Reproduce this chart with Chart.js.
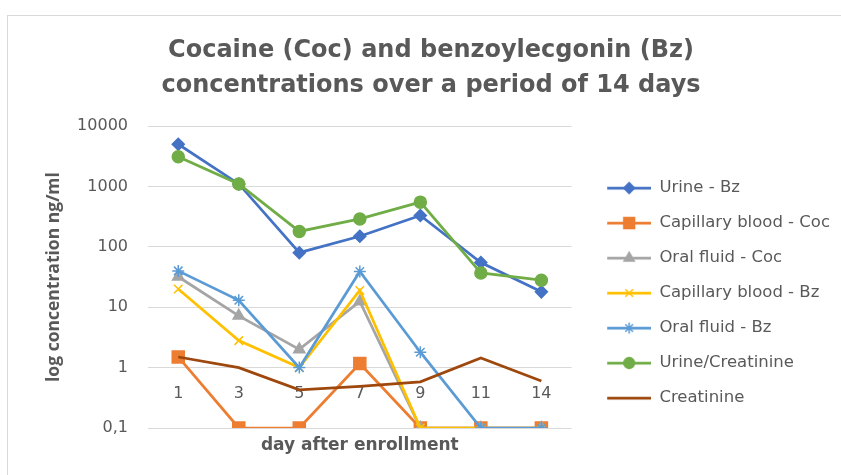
<!DOCTYPE html>
<html>
<head>
<meta charset="utf-8">
<script src="https://cdn.jsdelivr.net/npm/chart.js@4.4.0/dist/chart.umd.min.js"></script>
<style>
  body { margin: 0; background: #ffffff; }
  #chart_box { position: relative; width: 841px; height: 475px; overflow: hidden; }
  #frame { position: absolute; left: 7px; top: 15px; width: 900px; height: 500px; border: 1px solid #d9d9d9; }
  #chart { position: absolute; left: 0; top: 0; }
</style>
</head>
<body>
<div id="chart_box">
  <div id="frame"></div>
  <canvas id="chart" width="841" height="475"></canvas>
</div>
<script>
// values (ng/ml, log scale; 0.1 = below detection)
const days = ["1", "3", "5", "7", "9", "11", "14"];
const urine_bz = [5000, 1100, 80, 150, 330, 55, 18];
const capillary_blood_coc = [1.5, 0.1, 0.1, 1.17, 0.1, 0.1, 0.1];
const oral_fluid_coc = [32, 7.2, 2, 12.5, 0.1, 0.1, 0.1];
const capillary_blood_bz = [20, 2.8, 1, 19, 0.1, 0.1, 0.1];
const oral_fluid_bz = [40, 13, 1, 39, 1.8, 0.1, 0.1];
const urine_creatinine = [3100, 1100, 180, 290, 550, 37, 28];
const creatinine = [1.5, 1.0, 0.43, 0.49, 0.58, 1.45, 0.6];
const y_ticks = [0.1, 1, 10, 100, 1000, 10000];

const series_names = ["Urine - Bz", "Capillary blood - Coc", "Oral fluid - Coc", "Capillary blood - Bz",
                      "Oral fluid - Bz", "Urine/Creatinine", "Creatinine"];
const series_values = [urine_bz, capillary_blood_coc, oral_fluid_coc, capillary_blood_bz,
                       oral_fluid_bz, urine_creatinine, creatinine];

const series_colors = ["#4472c4", "#ed7d31", "#a5a5a5", "#ffc000", "#5b9bd5", "#70ad47", "#9e480e"];
const series_markers = ["rectRot", "rect", "triangle", "crossRot", "star", "circle", false];
const marker_radius = [6, 8.5, 6.5, 6, 6, 6, 0];

const text_color = "#595959";
const wide_font = "'DejaVu Sans', sans-serif";
const narrow_font = "'Open Sans', sans-serif";
const legend_box_width = 61;

function makeLegendMarker(color, point_style, radius) {
    /* line + marker drawn into a small canvas, used as the legend point style */
    const marker = document.createElement('canvas');
    marker.width = legend_box_width;
    marker.height = 20;
    const ctx = marker.getContext('2d');

    ctx.strokeStyle = color;
    ctx.fillStyle = color;
    ctx.lineWidth = 2.75;
    ctx.beginPath();
    ctx.moveTo(legend_box_width - 44, 10);
    ctx.lineTo(legend_box_width, 10);
    ctx.stroke();

    if (point_style) {
        ctx.lineWidth = 1.5;
        Chart.helpers.drawPoint(ctx, {pointStyle: point_style, radius: radius * 0.9, rotation: 0, borderWidth: 1.5},
                                legend_box_width - 22, 10);
    }
    return marker;
}

const legend_markers = series_names.map((name, i) => makeLegendMarker(series_colors[i], series_markers[i], marker_radius[i]));

const datasets = series_names.map((name, i) => ({
    label: name,
    data: series_values[i],
    borderColor: series_colors[i],
    backgroundColor: series_colors[i],
    borderWidth: 2.75,
    pointStyle: series_markers[i],
    pointRadius: marker_radius[i],
    pointBorderWidth: 1.5,
    pointHoverRadius: marker_radius[i],
    order: series_names.length - i      // later series drawn on top, like the original
}));

new Chart(document.getElementById('chart'), {
    type: 'line',
    data: { labels: days, datasets: datasets },
    options: {
        responsive: false,
        animation: false,
        layout: { padding: { left: 22, right: 1, top: 0, bottom: 0 } },
        plugins: {
            tooltip: { enabled: false },
            title: {
                display: true,
                text: ["Cocaine (Coc) and benzoylecgonin (Bz)", "concentrations over a period of 14 days"],
                color: text_color,
                font: { family: wide_font, size: 24, weight: 'bold', lineHeight: 1.46 },
                padding: { top: 33, bottom: 23 }
            },
            legend: {
                position: 'right',
                align: 'start',
                fullSize: false,
                maxWidth: 400,
                title: { display: true, text: ' ', font: { size: 16 }, padding: 8 },
                labels: {
                    usePointStyle: true,
                    pointStyleWidth: legend_box_width,
                    padding: 18.5,
                    color: text_color,
                    font: { family: wide_font, size: 16.5 },
                    generateLabels: (chart) => chart.data.datasets.map((ds, i) => ({
                        text: ds.label,
                        pointStyle: legend_markers[i],
                        fillStyle: ds.borderColor,
                        strokeStyle: ds.borderColor,
                        lineWidth: 0,
                        fontColor: text_color,
                        hidden: false,
                        datasetIndex: i
                    }))
                }
            }
        },
        scales: {
            x: {
                type: 'category',
                offset: true,
                grid: { display: false },
                border: { display: false },
                ticks: { display: false },
                title: {
                    display: true,
                    text: "day after enrollment",
                    color: text_color,
                    font: { family: wide_font, size: 17, weight: 'bold' },
                    padding: { top: 0, bottom: 19 }
                },
                afterFit: (axis) => { axis.height = 47; }
            },
            x_days: {
                type: 'category',
                axis: 'x',
                offset: true,
                position: { y: 1 },
                grid: { display: false },
                border: { display: false },
                ticks: { color: text_color, font: { family: wide_font, size: 16 }, padding: 9 }
            },
            y: {
                type: 'logarithmic',
                min: 0.1,
                max: 10000,
                grid: { color: '#d9d9d9', lineWidth: 1, drawTicks: false },
                border: { display: false },
                afterBuildTicks: (axis) => { axis.ticks = y_ticks.map(v => ({ value: v })); },
                ticks: {
                    color: text_color,
                    font: { family: wide_font, size: 16 },
                    padding: 20,
                    callback: (value) => value === 0.1 ? "0,1" : String(value)
                },
                title: {
                    display: true,
                    text: "log concentration ng/ml",
                    color: text_color,
                    font: { family: narrow_font, size: 17.5, weight: 'bold' },
                    padding: { top: 22, bottom: 0 }
                },
                afterFit: (axis) => { axis.width = 126; }
            }
        }
    }
});
</script>
</body>
</html>
